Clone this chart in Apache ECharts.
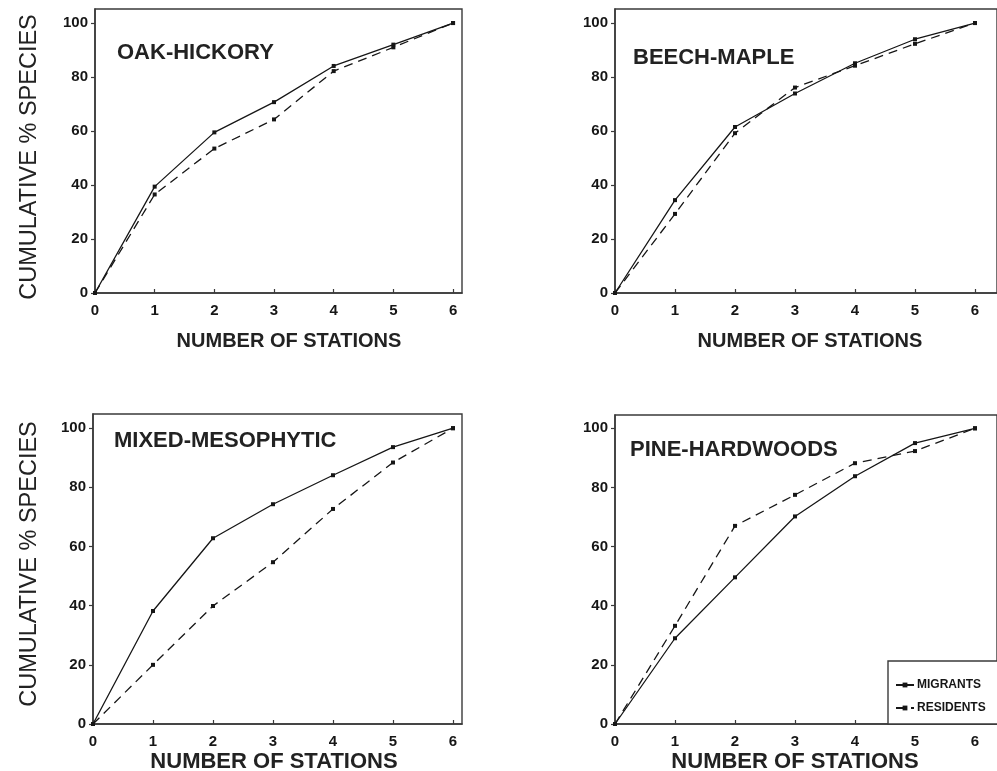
<!DOCTYPE html>
<html>
<head>
<meta charset="utf-8">
<title>Cumulative % species by number of stations</title>
<script src="https://cdn.jsdelivr.net/npm/echarts@6/dist/echarts.min.js"></script>
<style>
  html, body { margin: 0; padding: 0; background: #fff; }
  #chart { width: 997px; height: 771px; }
</style>
</head>
<body>
<div id="chart"></div>
<script>
// Number of stations (x) and cumulative percentage of species (y)
const stations = [0, 1, 2, 3, 4, 5, 6];
const xTicks = [0, 1, 2, 3, 4, 5, 6];
const yTicks = [0, 20, 40, 60, 80, 100];

const panelTitles = ['OAK-HICKORY', 'BEECH-MAPLE', 'MIXED-MESOPHYTIC', 'PINE-HARDWOODS'];
const seriesNames = ['MIGRANTS', 'RESIDENTS'];

const oakMigrants     = [0, 39.4, 59.5, 70.7, 84.1, 92.0, 100];
const oakResidents    = [0, 36.5, 53.5, 64.3, 82.2, 91.0, 100];
const beechMigrants   = [0, 34.4, 61.5, 73.9, 85.1, 94.0, 100];
const beechResidents  = [0, 29.3, 59.2, 76.1, 84.2, 92.3, 100];
const mixedMigrants   = [0, 38.2, 62.8, 74.3, 84.1, 93.6, 100];
const mixedResidents  = [0, 20.0, 39.9, 54.7, 72.7, 88.4, 100];
const pineMigrants    = [0, 29.0, 49.6, 70.2, 83.8, 95.0, 100];
const pineResidents   = [0, 33.2, 67.0, 77.5, 88.2, 92.3, 100];

const panelData = [
  [oakMigrants, oakResidents],
  [beechMigrants, beechResidents],
  [mixedMigrants, mixedResidents],
  [pineMigrants, pineResidents]
];

// Panel frames (px); right-hand panels run to the page edge
const grids = [
  { left: 95,  top: 9,   width: 367, height: 284, xMax: 6.15,   yMax: 105.2 },
  { left: 615, top: 9,   width: 382, height: 284, xMax: 6.3667, yMax: 105.2 },
  { left: 93,  top: 414, width: 369, height: 310, xMax: 6.15,   yMax: 104.8 },
  { left: 615, top: 415, width: 382, height: 309, xMax: 6.3667, yMax: 104.5 }
];

const INK = '#161616';
const AXIS = '#3a3a3a';
const FONT = '"Liberation Sans", Arial, Helvetica, sans-serif';

const option = {
  animation: false,
  backgroundColor: '#fff',
  grid: grids.map(g => ({
    left: g.left, top: g.top, width: g.width, height: g.height,
    show: true, borderColor: AXIS, borderWidth: 1.4, backgroundColor: 'transparent'
  })),
  xAxis: grids.map((g, i) => ({
    type: 'value', gridIndex: i, min: 0, max: g.xMax,
    splitLine: { show: false },
    axisLine: { show: true, onZero: false, lineStyle: { color: AXIS, width: 1.6 } },
    axisTick: { show: true, inside: true, length: 4, customValues: xTicks, lineStyle: { color: AXIS, width: 1.2 } },
    axisLabel: {
      customValues: xTicks, margin: 10,
      color: INK, fontFamily: FONT, fontWeight: 'bold', fontSize: 15
    }
  })),
  yAxis: grids.map((g, i) => ({
    type: 'value', gridIndex: i, min: 0, max: g.yMax,
    splitLine: { show: false },
    axisLine: { show: true, onZero: false, lineStyle: { color: AXIS, width: 1.6 } },
    axisTick: { show: true, inside: false, length: 4, customValues: yTicks, lineStyle: { color: AXIS, width: 1.2 } },
    axisLabel: {
      customValues: yTicks, margin: 7,
      color: INK, fontFamily: FONT, fontWeight: 'bold', fontSize: 15
    }
  })),
  legend: {
    left: 890, top: 674, orient: 'vertical', itemGap: 11,
    itemWidth: 18, itemHeight: 6,
    data: seriesNames,
    selectedMode: false,
    textStyle: { color: INK, fontFamily: FONT, fontWeight: 'bold', fontSize: 12, padding: [0, 0, 0, -2] }
  },
  series: [],
  graphic: []
};

panelData.forEach((pair, i) => {
  pair.forEach((vals, k) => {
    option.series.push({
      type: 'line',
      name: seriesNames[k],
      xAxisIndex: i, yAxisIndex: i,
      data: stations.map((s, j) => [s, vals[j]]),
      symbol: 'rect', symbolSize: 4,
      itemStyle: { color: INK },
      lineStyle: { color: INK, width: 1.3, type: k === 0 ? 'solid' : [9, 6] },
      z: 3
    });
  });
});

// Panel titles
const titlePos = [[117, 53], [633, 58], [114, 441], [630, 450]];
titlePos.forEach((p, i) => {
  option.graphic.push({
    type: 'text', x: p[0], y: p[1],
    style: {
      text: panelTitles[i], fill: '#222', font: 'bold 22px ' + FONT,
      align: 'left', verticalAlign: 'middle'
    }
  });
});

// X axis names
const xNamePos = [[289, 341, 20], [810, 341, 20], [274, 762, 22], [795, 762, 22]];
xNamePos.forEach(p => {
  option.graphic.push({
    type: 'text', x: p[0], y: p[1],
    style: {
      text: 'NUMBER OF STATIONS', fill: '#222', font: 'bold ' + p[2] + 'px ' + FONT,
      align: 'center', verticalAlign: 'middle'
    }
  });
});

// Y axis names (rotated)
[[30, 157], [30, 564]].forEach(p => {
  option.graphic.push({
    type: 'text', x: p[0], y: p[1], rotation: Math.PI / 2,
    style: {
      text: 'CUMULATIVE % SPECIES', fill: '#222', font: '23.5px ' + FONT,
      align: 'center', verticalAlign: 'middle'
    }
  });
});

// Legend frame in the lower-right panel
option.graphic.push({
  type: 'rect', shape: { x: 888, y: 661, width: 120, height: 63 },
  style: { fill: '#fff', stroke: AXIS, lineWidth: 1.4 }, z: 1
});

const chart = echarts.init(document.getElementById('chart'), null, { renderer: 'canvas' });
chart.setOption(option);
</script>
</body>
</html>
